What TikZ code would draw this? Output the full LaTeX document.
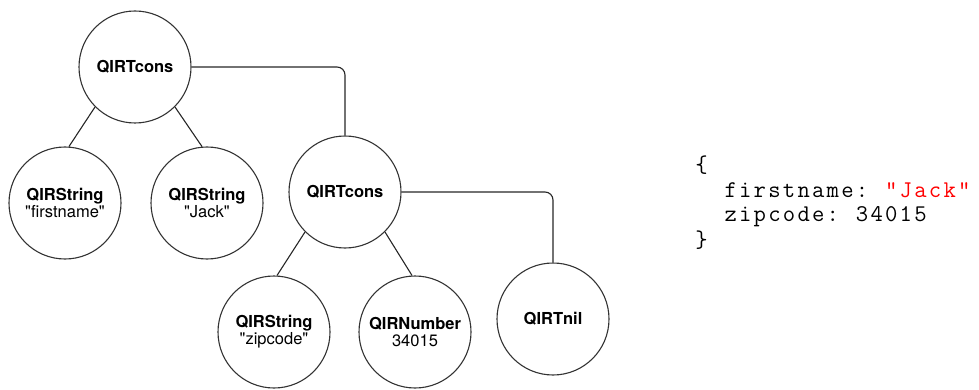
\documentclass[tikz,border=0pt]{standalone}
\usepackage{fontspec}
\newfontfamily\nodefont{TeX Gyre Heros}
% fixed-pitch cells for the code listing
\newlength\cw
\setlength\cw{14.6pt}
\def\cells#1{\ifx#1\relax\else\makebox[\cw]{#1}\expandafter\cells\fi}
\tikzset{
  tree/.style={circle, draw=black!80, line width=1.1pt, minimum size=112pt,
    inner sep=0pt, align=center, font=\nodefont\fontsize{16.5}{17}\selectfont},
  edge/.style={draw=black!85, line width=1.1pt},
  link/.style={edge, rounded corners=8pt},
  code/.style={anchor=base west, inner sep=0pt,
    font=\ttfamily\fontsize{24}{25}\selectfont}
}
\begin{document}
\begin{tikzpicture}[x=1pt, y=-1pt]
\useasboundingbox (0,0) rectangle (979,390);

% tree nodes
\node[tree] (root) at (135,67)  {\bfseries QIRTcons};
\node[tree] (fn)   at (65,203)  {{\bfseries QIRString}\\"firstname"};
\node[tree] (jk)   at (207,203) {{\bfseries QIRString}\\"Jack"};
\node[tree] (mid)  at (345,192) {\bfseries QIRTcons};
\node[tree] (zc)   at (274,332) {{\bfseries QIRString}\\"zipcode"};
\node[tree] (num)  at (415,332) {{\bfseries QIRNumber}\\34015};
\node[tree] (nil)  at (553,319) {\bfseries QIRTnil};

% children
\draw[edge] (root.-135) -- (fn.86);
\draw[edge] (root.-45)  -- (jk.95);
\draw[edge] (mid.-135)  -- (zc.87);
\draw[edge] (mid.-45)   -- (num.93);

% cons tails
\draw[link] (root.east) -| (mid.north);
\draw[link] (mid.east)  -| (nil.north);

% the record it encodes
\node[code] (l1) at (694,172) {\cells\{\relax};
\node[code] (l2) at (694,197) {\cells~~firstname:~\relax\textcolor{red}{\cells"Jack"\relax}};
\node[code] (l3) at (694,222) {\cells~~zipcode:~34015\relax};
\node[code] (l4) at (694,247) {\cells\}\relax};
\end{tikzpicture}
\end{document}
